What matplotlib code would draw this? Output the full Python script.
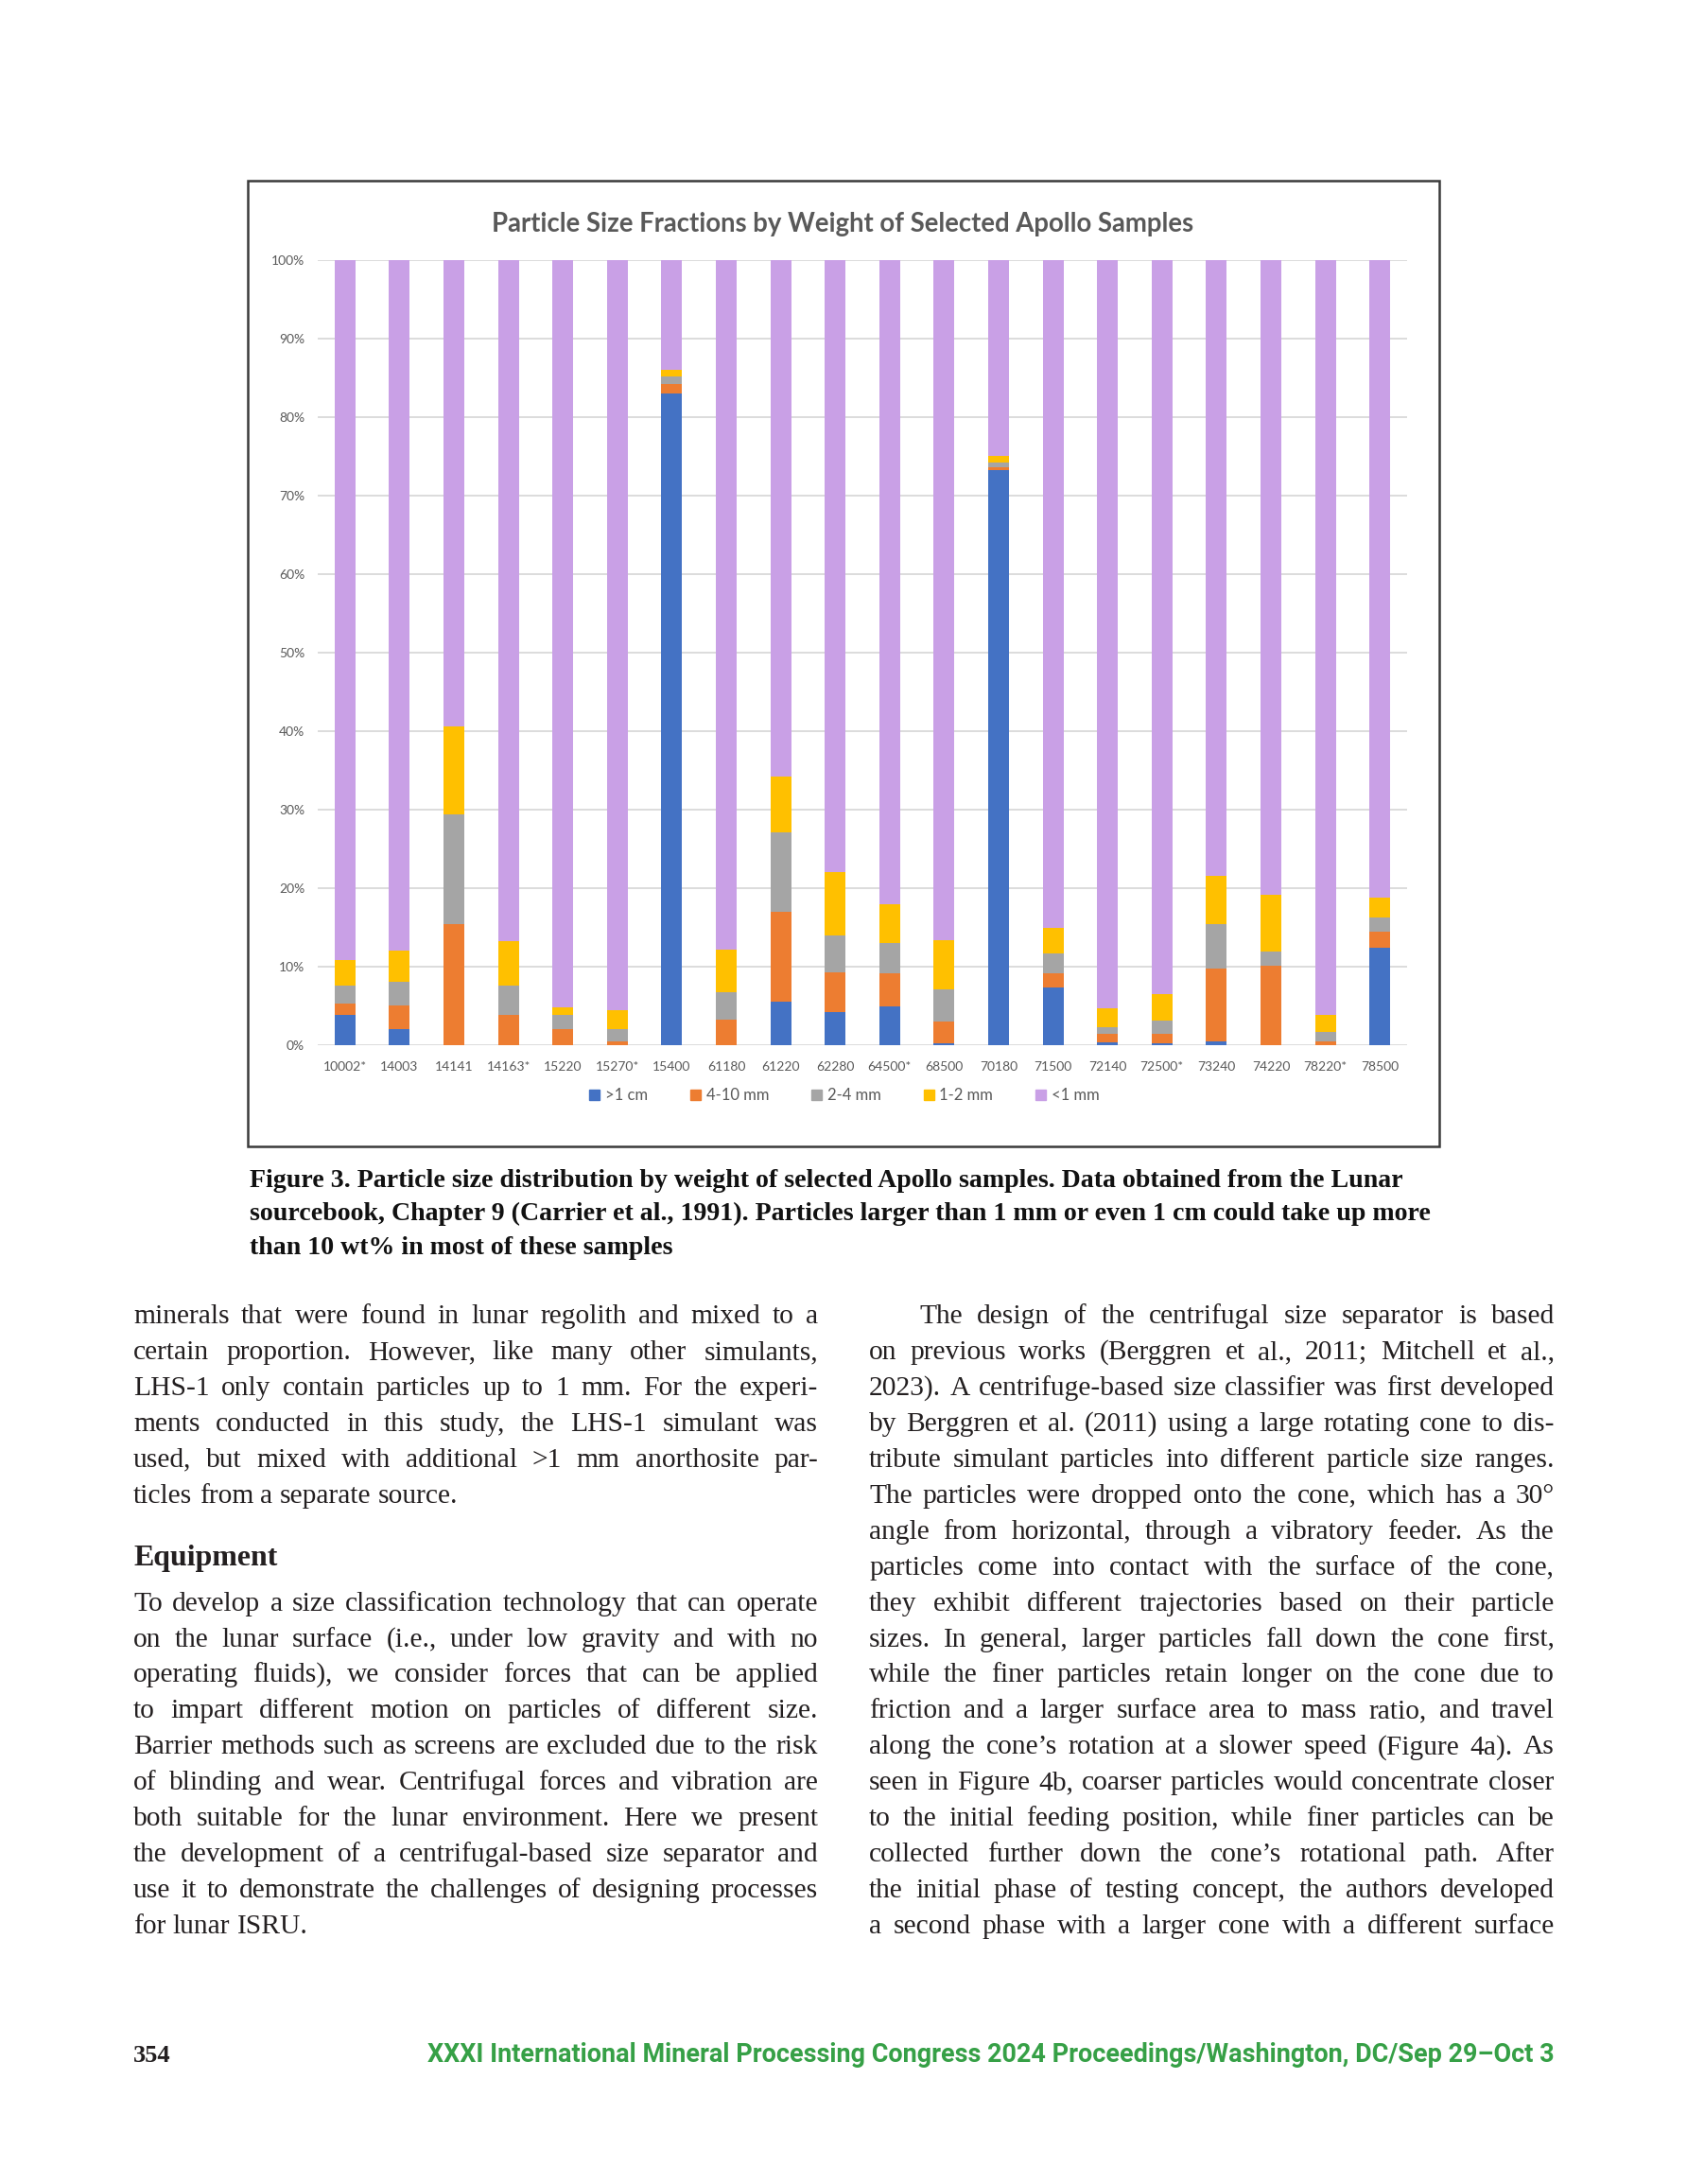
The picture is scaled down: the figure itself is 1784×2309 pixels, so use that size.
import matplotlib
matplotlib.use("Agg")
import matplotlib.pyplot as plt
from matplotlib.patches import Rectangle, Patch
from matplotlib.ticker import FuncFormatter
import numpy as np

# --- chart data (wt% by size class) ---
samples = ["10002*", "14003", "14141", "14163*", "15220", "15270*", "15400",
           "61180", "61220", "62280", "64500*", "68500", "70180", "71500",
           "72140", "72500*", "73240", "74220", "78220*", "78500"]
gt_1cm = [3.8, 2.0, 0.0, 0.0, 0.0, 0.0, 83.0, 0.0, 5.5, 4.2,
          5.0, 0.2, 73.3, 7.3, 0.4, 0.3, 0.5, 0.0, 0.0, 12.4]
mm_4_10 = [1.5, 3.1, 15.4, 3.8, 2.1, 0.5, 1.2, 3.3, 11.5, 5.1,
           4.1, 2.8, 0.3, 1.9, 1.1, 1.1, 9.2, 10.1, 0.5, 2.1]
mm_2_4 = [2.3, 3.0, 14.0, 3.8, 1.8, 1.5, 1.0, 3.5, 10.1, 4.7,
          3.9, 4.1, 0.6, 2.5, 0.8, 1.7, 5.7, 1.8, 1.2, 1.8]
mm_1_2 = [3.3, 3.9, 11.2, 5.7, 0.9, 2.5, 0.8, 5.4, 7.1, 8.0,
          4.9, 6.3, 0.9, 3.2, 2.4, 3.4, 6.2, 7.3, 2.1, 2.5]
lt_1mm = [89.1, 88.0, 59.4, 86.7, 95.2, 95.5, 14.0, 87.8, 65.8, 78.0,
          82.1, 86.6, 24.9, 85.1, 95.3, 93.5, 78.4, 80.8, 96.2, 81.2]
series_names = [">1 cm", "4-10 mm", "2-4 mm", "1-2 mm", "<1 mm"]
series_colors = ["#4472C4", "#ED7D31", "#A5A5A5", "#FFC000", "#C9A0E6"]

chart_title = "Particle Size Fractions by Weight of Selected Apollo Samples"

caption = ["Figure 3. Particle size distribution by weight of selected Apollo samples. Data obtained from the Lunar",
           "sourcebook, Chapter 9 (Carrier et al., 1991). Particles larger than 1 mm or even 1 cm could take up more",
           "than 10 wt% in most of these samples"]

left_par1 = ["minerals that were found in lunar regolith and mixed to a",
             "certain proportion. However, like many other simulants,",
             "LHS-1 only contain particles up to 1 mm. For the experi-",
             "ments conducted in this study, the LHS-1 simulant was",
             "used, but mixed with additional >1 mm anorthosite par-",
             "ticles from a separate source."]
left_par2 = ["To develop a size classification technology that can operate",
             "on the lunar surface (i.e., under low gravity and with no",
             "operating fluids), we consider forces that can be applied",
             "to impart different motion on particles of different size.",
             "Barrier methods such as screens are excluded due to the risk",
             "of blinding and wear. Centrifugal forces and vibration are",
             "both suitable for the lunar environment. Here we present",
             "the development of a centrifugal-based size separator and",
             "use it to demonstrate the challenges of designing processes",
             "for lunar ISRU."]
right_par = ["The design of the centrifugal size separator is based",
             "on previous works (Berggren et al., 2011; Mitchell et al.,",
             "2023). A centrifuge-based size classifier was first developed",
             "by Berggren et al. (2011) using a large rotating cone to dis-",
             "tribute simulant particles into different particle size ranges.",
             "The particles were dropped onto the cone, which has a 30°",
             "angle from horizontal, through a vibratory feeder. As the",
             "particles come into contact with the surface of the cone,",
             "they exhibit different trajectories based on their particle",
             "sizes. In general, larger particles fall down the cone first,",
             "while the finer particles retain longer on the cone due to",
             "friction and a larger surface area to mass ratio, and travel",
             "along the cone’s rotation at a slower speed (Figure 4a). As",
             "seen in Figure 4b, coarser particles would concentrate closer",
             "to the initial feeding position, while finer particles can be",
             "collected further down the cone’s rotational path. After",
             "the initial phase of testing concept, the authors developed",
             "a second phase with a larger cone with a different surface"]

footer_page = "354"
footer_text = "XXXI International Mineral Processing Congress 2024 Proceedings/Washington, DC/Sep 29–Oct 3"

W, H = 1784, 2309
fig = plt.figure(figsize=(W / 100, H / 100), dpi=100)
fig.patch.set_facecolor("white")


def fx(x):
    return x / W


def fy(y):
    return 1 - y / H


renderer = fig.canvas.get_renderer()


def width_of(t):
    return t.get_window_extent(renderer).width


def fit(t, target):
    t.set_fontsize(t.get_fontsize() * target / width_of(t))


# chart frame
fig.add_artist(Rectangle((fx(262), fy(1212)), fx(1522) - fx(262), fy(191) - fy(1212),
                         transform=fig.transFigure, fill=False, edgecolor="#3a3a3a", lw=1.8))

ax = fig.add_axes([fx(336), fy(1105), fx(1488) - fx(336), fy(275) - fy(1105)])
x = np.arange(len(samples))
bottom = np.zeros(len(samples))
for vals, name, col in zip([gt_1cm, mm_4_10, mm_2_4, mm_1_2, lt_1mm], series_names, series_colors):
    ax.bar(x, vals, bottom=bottom, width=0.38, color=col, label=name, zorder=3)
    bottom += np.array(vals)

ax.set_xlim(-0.5, len(samples) - 0.5)
ax.set_ylim(0, 100)
ax.set_yticks(np.arange(0, 101, 10))
ax.yaxis.set_major_formatter(FuncFormatter(lambda v, p: "%d%%" % v))
ax.set_xticks(x)
ax.set_xticklabels(samples)
ax.tick_params(length=0, labelsize=10, labelcolor="#595959", pad=12)
ax.tick_params(axis="y", pad=10)
for lab in ax.get_xticklabels() + ax.get_yticklabels():
    lab.set_family("Lato")
ax.grid(axis="y", color="#D9D9D9", lw=1.3, zorder=0)
for s in ax.spines.values():
    s.set_visible(False)

handles = [Patch(color=c) for c in series_colors]
fig.legend(handles, series_names, loc="center", bbox_to_anchor=(fx(893), fy(1158)),
           ncol=5, frameon=False, handlelength=0.65, handleheight=0.65, handletextpad=0.35,
           columnspacing=2.7, prop={"family": "Lato", "size": 12}, labelcolor="#595959")

t = fig.text(fx(891), fy(245), chart_title, ha="center", va="baseline",
             fontsize=18, fontweight="bold", family="Lato", color="#595959")
fit(t, 744)

# caption
cap = []
for i, line in enumerate(caption):
    cap.append(fig.text(fx(264), fy(1255 + 35.5 * i), line, ha="left", va="baseline",
                        fontsize=18, fontweight="bold", family="Liberation Serif", color="#111111"))
fit(cap[1], 1246)
for c in cap:
    c.set_fontsize(cap[1].get_fontsize())

body_col = "#231f20"

# body size: widest justified line fills the column with ordinary spaces
probe = fig.text(0, 0, "", fontsize=10, family="Liberation Serif")
ratio = 0
for line in left_par1[:-1] + left_par2[:-1] + right_par[1:]:
    probe.set_text(line)
    ratio = max(ratio, width_of(probe) / 724)
probe.remove()
body_size = 10 / ratio * 0.985


def justify(line, x0, x1, y, last=False, indent=0):
    words = line.split()
    ts = [fig.text(0, fy(y), w, ha="left", va="baseline", fontsize=body_size,
                   family="Liberation Serif", color=body_col) for w in words]
    widths = [width_of(t) for t in ts]
    if last or len(words) == 1:
        gap = 0.25 * body_size * 100 / 72
    else:
        gap = (x1 - x0 - indent - sum(widths)) / (len(words) - 1)
    pos = x0 + indent
    for t, w in zip(ts, widths):
        t.set_x(fx(pos))
        pos += w + gap


base = 1399
step = 37.95
for i, line in enumerate(left_par1):
    justify(line, 141, 865, base + step * i, last=(i == len(left_par1) - 1))
fig.text(fx(141), fy(1655), "Equipment", ha="left", va="baseline", fontsize=body_size * 1.08,
         fontweight="bold", family="Liberation Serif", color=body_col)
for i, line in enumerate(left_par2):
    justify(line, 141, 865, base + step * (8 + i), last=(i == len(left_par2) - 1))
for i, line in enumerate(right_par):
    justify(line, 919, 1644, base + step * i, indent=(53 if i == 0 else 0))

# footer
fig.text(fx(141), fy(2180), footer_page, ha="left", va="baseline", fontsize=19,
         fontweight="bold", family="Liberation Serif", color=body_col)
t = fig.text(fx(1644), fy(2180), footer_text, ha="right", va="baseline", fontsize=17,
             fontweight="bold", family="Roboto", color="#36A046")
fit(t, 1190)

fig.savefig("out.png", dpi=100)
